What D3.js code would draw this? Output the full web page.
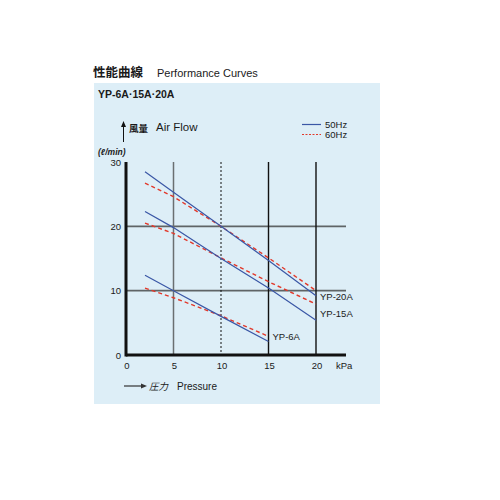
<!DOCTYPE html>
<html>
<head>
<meta charset="utf-8">
<script src="https://cdn.jsdelivr.net/npm/d3@7"></script>
<style>
  body { margin: 0; background: #fff; }
  text { font-family: "Liberation Sans", Arial, "Noto Sans CJK JP", sans-serif; fill: #1a1a1a; }
  .cjk { font-family: "Noto Sans CJK JP", sans-serif; }
</style>
</head>
<body>
<div id="wrapper"></div>
<script>
// pressure points (kPa) and air flow (l/min)
const pressure = [2, 5, 10, 15, 20];
const pressure6 = [2, 5, 10, 15];

const yp20a50 = [28.5, 25.3, 20.0, 14.7, 9.2];
const yp20a60 = [26.7, 24.6, 20.0, 15.1, 10.0];
const yp15a50 = [22.3, 19.8, 15.0, 10.4, 5.4];
const yp15a60 = [20.5, 18.9, 15.1, 11.4, 7.9];
const yp6a50 = [12.4, 10.0, 6.0, 2.1];
const yp6a60 = [10.4, 8.9, 6.1, 2.9];

const xTicks = [0, 5, 10, 15, 20];
const yTicks = [0, 10, 20, 30];
const modelLabels = ["YP-20A", "YP-15A", "YP-6A"];

const blue = "#3a57a6";
const red = "#e2382a";

const svg = d3.select("#wrapper")
    .append("svg")
    .attr("width", 500)
    .attr("height", 500);

// heading
svg.append("text").attr("class", "cjk")
    .attr("x", 93).attr("y", 77)
    .attr("font-size", "12.5px").attr("font-weight", "bold")
    .text("性能曲線");
svg.append("text")
    .attr("x", 157).attr("y", 77)
    .attr("font-size", "11px")
    .text("Performance Curves");

// panel
svg.append("rect")
    .attr("x", 94).attr("y", 83)
    .attr("width", 286).attr("height", 321)
    .attr("fill", "#ddeef7");

svg.append("text")
    .attr("x", 98).attr("y", 98)
    .attr("font-size", "10.5px").attr("font-weight", "bold")
    .text("YP-6A·15A·20A");

const x = d3.scaleLinear().domain([0, 20]).range([126, 316]);
const y = d3.scaleLinear().domain([0, 30]).range([355, 162]);
const xEnd = 346;

const grid = svg.append("g");

// horizontal grid
grid.selectAll(".hg")
    .data([10, 20])
    .enter().append("line")
    .attr("x1", x(0)).attr("x2", xEnd)
    .attr("y1", d => y(d)).attr("y2", d => y(d))
    .attr("stroke", "#5f6466").attr("stroke-width", 1.6);

// vertical grid
const vStyle = {
    5: { c: "#6a6f71", w: 1.5, dash: null },
    10: { c: "#111", w: 1, dash: "2,2" },
    15: { c: "#111", w: 1.4, dash: null },
    20: { c: "#111", w: 1.4, dash: null }
};
grid.selectAll(".vg")
    .data([5, 10, 15, 20])
    .enter().append("line")
    .attr("x1", d => x(d)).attr("x2", d => x(d))
    .attr("y1", y(30)).attr("y2", y(0))
    .attr("stroke", d => vStyle[d].c)
    .attr("stroke-width", d => vStyle[d].w)
    .attr("stroke-dasharray", d => vStyle[d].dash);

// axes
svg.append("line")
    .attr("x1", x(0)).attr("x2", xEnd)
    .attr("y1", y(0)).attr("y2", y(0))
    .attr("stroke", "#111").attr("stroke-width", 3);
svg.append("line")
    .attr("x1", x(0)).attr("x2", x(0))
    .attr("y1", y(30)).attr("y2", y(0) + 1.5)
    .attr("stroke", "#111").attr("stroke-width", 3);

svg.selectAll(".yt")
    .data(yTicks)
    .enter().append("text")
    .attr("x", 121).attr("y", d => y(d) + 3.5)
    .attr("text-anchor", "end")
    .attr("font-size", "9.5px")
    .text(d => d);

svg.selectAll(".xt")
    .data(xTicks)
    .enter().append("text")
    .attr("x", d => x(d) + 1).attr("y", 369)
    .attr("text-anchor", "middle")
    .attr("font-size", "9.5px")
    .text(d => d);

svg.append("text")
    .attr("x", 336).attr("y", 369)
    .attr("font-size", "9.5px")
    .text("kPa");

// series
const series = [
    { xs: pressure, ys: yp20a60, c: red, dash: "4,3" },
    { xs: pressure, ys: yp15a60, c: red, dash: "4,3" },
    { xs: pressure6, ys: yp6a60, c: red, dash: "4,3" },
    { xs: pressure, ys: yp20a50, c: blue, dash: null },
    { xs: pressure, ys: yp15a50, c: blue, dash: null },
    { xs: pressure6, ys: yp6a50, c: blue, dash: null }
];

const lineGen = d3.line()
    .x(d => x(d[0]))
    .y(d => y(d[1]));

svg.append("g").selectAll("path")
    .data(series)
    .enter().append("path")
    .attr("d", s => lineGen(s.xs.map((v, i) => [v, s.ys[i]])))
    .attr("fill", "none")
    .attr("stroke", s => s.c)
    .attr("stroke-width", s => s.dash ? 1.4 : 1.2)
    .attr("stroke-dasharray", s => s.dash);

// model labels
const labelPos = [
    { t: modelLabels[0], px: 20, py: yp20a50[4] },
    { t: modelLabels[1], px: 20, py: yp15a50[4] },
    { t: modelLabels[2], px: 15, py: yp6a60[3] }
];
svg.selectAll(".ml")
    .data(labelPos)
    .enter().append("text")
    .attr("x", d => x(d.px) + 4)
    .attr("y", (d, i) => [y(d.py) + 4, y(d.py) - 3, y(d.py) + 3.5][i])
    .attr("font-size", "9.5px")
    .text(d => d.t);

// legend
const legend = svg.append("g");
legend.append("line")
    .attr("x1", 302).attr("x2", 321).attr("y1", 124.5).attr("y2", 124.5)
    .attr("stroke", blue).attr("stroke-width", 1.2);
legend.append("line")
    .attr("x1", 302).attr("x2", 321).attr("y1", 134.5).attr("y2", 134.5)
    .attr("stroke", red).attr("stroke-width", 1.2)
    .attr("stroke-dasharray", "2,1.5");
legend.append("text").attr("x", 325).attr("y", 128).attr("font-size", "9.5px").text("50Hz");
legend.append("text").attr("x", 325).attr("y", 138).attr("font-size", "9.5px").text("60Hz");

// y axis title with arrow
svg.append("line")
    .attr("x1", 123.5).attr("x2", 123.5).attr("y1", 142).attr("y2", 126)
    .attr("stroke", "#111").attr("stroke-width", 1);
svg.append("path")
    .attr("d", "M121,127 L123.5,121 L126,127 Z")
    .attr("fill", "#111");
svg.append("text").attr("class", "cjk")
    .attr("x", 129).attr("y", 132)
    .attr("font-size", "9.5px").attr("font-weight", "bold")
    .text("風量");
svg.append("text")
    .attr("x", 156).attr("y", 131)
    .attr("font-size", "11.5px")
    .text("Air Flow");
svg.append("text")
    .attr("x", 98).attr("y", 155)
    .attr("font-size", "8.5px").attr("font-style", "italic").attr("font-weight", "bold")
    .text("(ℓ/min)");

// x axis title with arrow
svg.append("line")
    .attr("x1", 124).attr("x2", 142).attr("y1", 386).attr("y2", 386)
    .attr("stroke", "#333").attr("stroke-width", 1.2);
svg.append("path")
    .attr("d", "M141,383.5 L147,386 L141,388.5 Z")
    .attr("fill", "#333");
svg.append("text").attr("class", "cjk")
    .attr("x", 149).attr("y", 390)
    .attr("font-size", "9.5px").attr("font-style", "italic")
    .text("圧力");
svg.append("text")
    .attr("x", 177).attr("y", 390)
    .attr("font-size", "10px")
    .text("Pressure");
</script>
</body>
</html>
